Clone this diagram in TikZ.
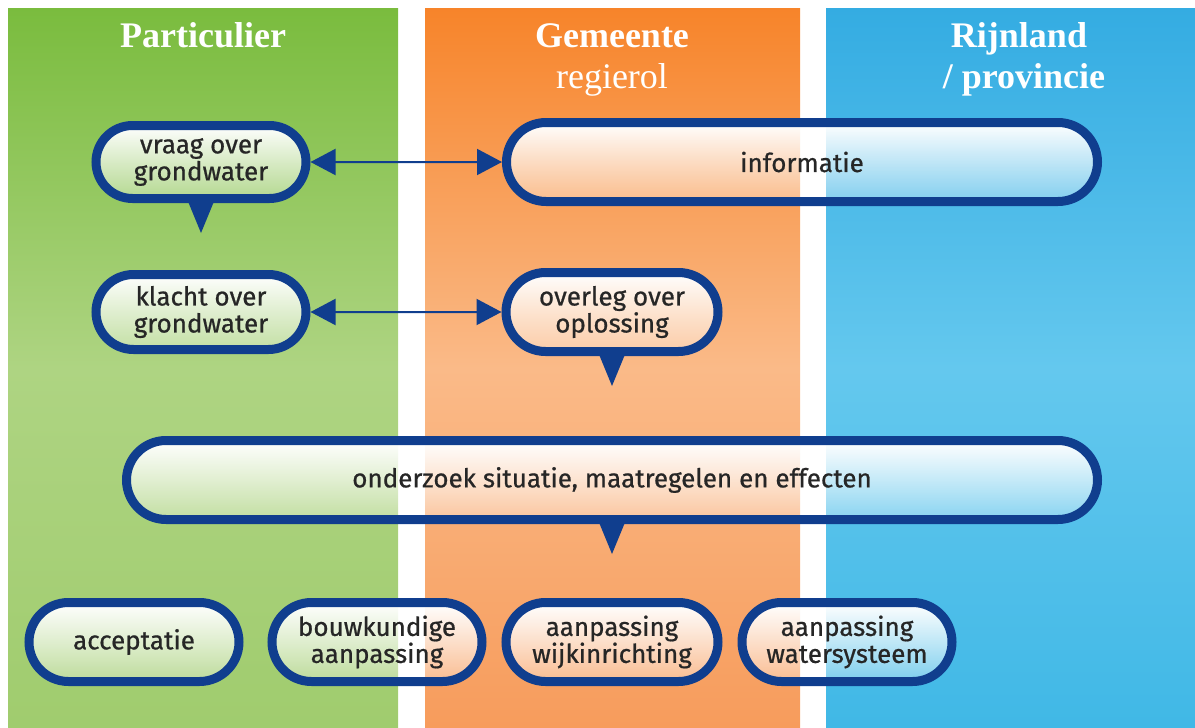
\documentclass[tikz,border=0pt]{standalone}
\usepackage{fontspec}
\setmainfont{Liberation Serif}
\setsansfont{Fira Sans}
\newfontfamily\stepfont{Fira Sans}[FakeBold=0.7]
\usetikzlibrary{shapes.misc,arrows.meta,fadings}

\definecolor{rimblue}{RGB}{16,62,142}
\definecolor{greentop}{RGB}{122,188,62}
\definecolor{greenmid}{RGB}{174,212,130}
\definecolor{greenbot}{RGB}{160,204,110}
\definecolor{orangetop}{RGB}{247,132,42}
\definecolor{orangemid}{RGB}{250,186,136}
\definecolor{orangebot}{RGB}{247,156,92}
\definecolor{bluetop}{RGB}{52,172,226}
\definecolor{bluemid}{RGB}{100,200,238}
\definecolor{bluebot}{RGB}{64,184,230}

\tikzfading[name=boxfade, top color=transparent!0, bottom color=transparent!70]

\begin{document}
\begin{tikzpicture}[x=1pt, y=-1pt,
    step box/.style={rounded rectangle, draw=rimblue, line width=9pt,
        preaction={fill=white, path fading=boxfade},
        font=\stepfont\fontsize{26}{27}\selectfont, text=black!85,
        align=center, minimum height=79pt, inner xsep=6pt},
    link/.style={{Triangle[length=25pt,width=26pt]}-{Triangle[length=25pt,width=26pt]},
        draw=rimblue, line width=2pt},
    head/.style={text=white, font=\fontsize{36}{41}\selectfont, align=center}]
    \useasboundingbox (0,0) rectangle (1195,728);

    % columns
    \shade[top color=greentop, bottom color=greenbot, middle color=greenmid]
        (8,8) rectangle (398,728);
    \shade[top color=orangetop, bottom color=orangebot, middle color=orangemid]
        (425,8) rectangle (800,728);
    \shade[top color=bluetop, bottom color=bluebot, middle color=bluemid]
        (826,8) rectangle (1195,728);

    % headings
    \node[head, anchor=base] (part) at (203,47) {\bfseries Particulier};
    \node[head, anchor=base] (gem) at (612,47) {\bfseries Gemeente};
    \node[head, anchor=base] (regie) at (612,88) {regierol};
    \node[head, anchor=base] (rijn) at (1019,47) {\bfseries Rijnland};
    \node[head, anchor=base] (prov) at (1024,88) {\bfseries / provincie};

    % steps
    \node[step box, minimum width=222pt, minimum height=73pt] (vraag) at (201,162) {vraag over\\grondwater};
    \node[step box, minimum width=603pt] (info) at (802,162) {informatie};
    \node[step box, minimum width=222pt, minimum height=75pt] (klacht) at (201,312) {klacht over\\grondwater};
    \node[step box, minimum width=224pt] (overleg) at (612,312) {overleg over\\oplossing};
    \node[step box, minimum width=983pt] (onderzoek) at (612,480) {onderzoek situatie, maatregelen en effecten};

    \node[step box, minimum width=222pt] (accept) at (134,642) {acceptatie};
    \node[step box, minimum width=222pt] (bouw) at (377,642) {bouwkundige\\aanpassing};
    \node[step box, minimum width=224pt] (wijk) at (612,642) {aanpassing\\wijkinrichting};
    \node[step box, minimum width=222pt] (water) at (847,642) {aanpassing\\watersysteem};

    % pointers
    \foreach \n in {vraag, overleg, onderzoek}
        \fill[rimblue] ([xshift=-14pt, yshift=4pt]\n.south) -- ([xshift=14pt, yshift=4pt]\n.south)
            -- ([yshift=-30pt]\n.south) -- cycle;

    % exchanges
    \draw[link] (vraag) -- (info);
    \draw[link] (klacht) -- (overleg);
\end{tikzpicture}
\end{document}
